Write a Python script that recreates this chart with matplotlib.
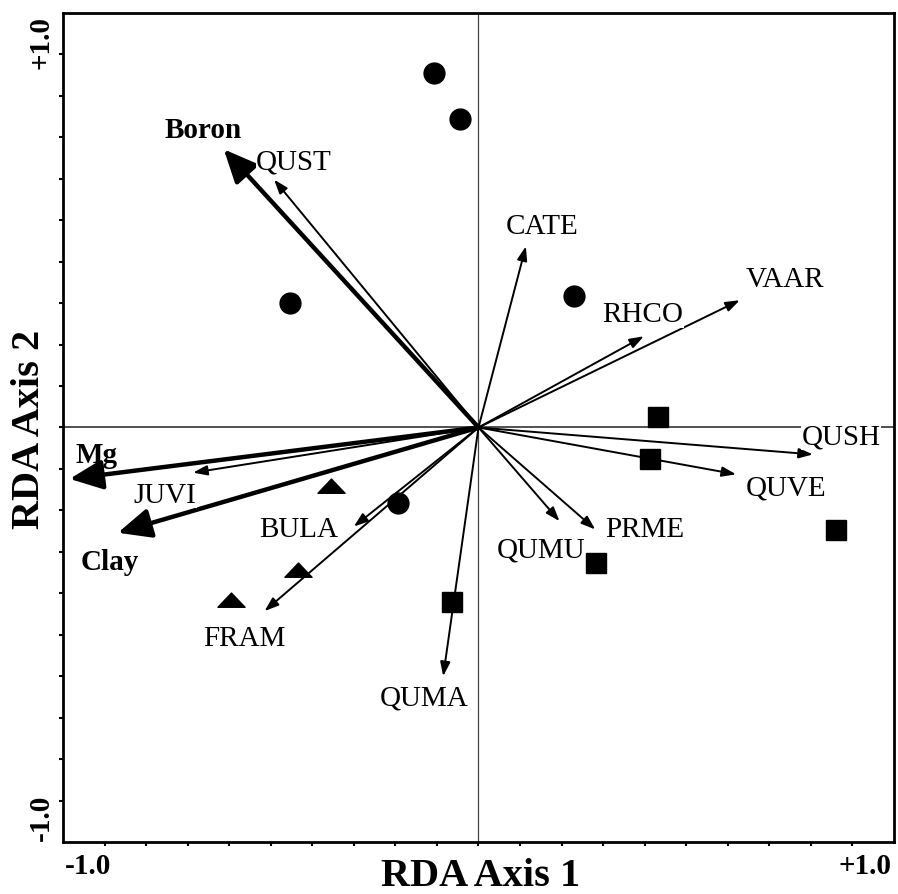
import numpy as np
import matplotlib
matplotlib.use("Agg")
import matplotlib.pyplot as plt
from matplotlib.path import Path

# site scores
circle_x = [-0.108, -0.045, -0.453, 0.229, -0.194]
circle_y = [0.856, 0.743, 0.301, 0.317, -0.183]
square_x = [0.432, 0.413, 0.861, 0.284, -0.064]
square_y = [0.025, -0.076, -0.248, -0.328, -0.421]
triangle_x = [-0.354, -0.434, -0.595]
triangle_y = [-0.142, -0.343, -0.417]

# environmental vectors
env_names = ["Boron", "Mg", "Clay"]
env_x = [-0.613, -0.984, -0.868]
env_y = [0.671, -0.124, -0.254]
env_label_x = [-0.663, -0.920, -0.888]
env_label_y = [0.719, -0.065, -0.323]

# species vectors
sp_names = ["QUST", "CATE", "VAAR", "RHCO", "QUSH", "QUVE",
            "PRME", "QUMU", "QUMA", "FRAM", "BULA", "JUVI"]
sp_x = [-0.492, 0.114, 0.629, 0.398, 0.805, 0.620,
        0.281, 0.195, -0.085, -0.515, -0.300, -0.687]
sp_y = [0.598, 0.437, 0.307, 0.220, -0.065, -0.113,
        -0.246, -0.226, -0.600, -0.443, -0.239, -0.109]
sp_label_x = [-0.444, 0.153, 0.737, 0.396, 0.872, 0.741,
              0.400, 0.151, -0.131, -0.563, -0.434, -0.755]
sp_label_y = [0.642, 0.486, 0.357, 0.273, -0.021, -0.145,
              -0.246, -0.294, -0.652, -0.507, -0.246, -0.162]

tick_label_text = ["-1.0", "+1.0"]
tick_label_pos = [-0.94, 0.93]

serif = ["Liberation Serif", "DejaVu Serif"]

fig = plt.figure(figsize=(8.98, 8.95), dpi=100)
ax = fig.add_axes([0.0702, 0.0581, 0.9253, 0.9263])
ax.set_xlim(-1.0, 1.0)
ax.set_ylim(-1.0, 1.0)

for s in ax.spines.values():
    s.set_linewidth(2)
ax.set_xticks(np.arange(-0.9, 0.95, 0.1))
ax.set_yticks(np.arange(-0.9, 0.95, 0.1))
ax.tick_params(direction="out", length=3, width=1.5, labelbottom=False, labelleft=False)

# centre lines
ax.axhline(0, color="#222222", lw=1.1, zorder=1)
ax.axvline(0, color="#444444", lw=0.9, zorder=1)

# environmental arrows (thick)
for name, x, y, lx, ly in zip(env_names, env_x, env_y, env_label_x, env_label_y):
    ax.annotate("", xy=(x, y), xytext=(0, 0),
                arrowprops=dict(arrowstyle="-|>,head_length=1.0,head_width=0.45",
                                lw=3.2, color="black", mutation_scale=20,
                                shrinkA=0, shrinkB=0), zorder=3)
    ax.text(lx, ly, name, ha="center", va="center", fontsize=21,
            fontweight="bold", family=serif, zorder=5)

# species arrows (thin)
for name, x, y, lx, ly in zip(sp_names, sp_x, sp_y, sp_label_x, sp_label_y):
    ax.annotate("", xy=(x, y), xytext=(0, 0),
                arrowprops=dict(arrowstyle="-|>,head_length=0.85,head_width=0.3",
                                lw=1.4, color="black", mutation_scale=10,
                                shrinkA=0, shrinkB=0), zorder=3)
    ax.text(lx, ly, name, ha="center", va="center", fontsize=21,
            family=serif, zorder=5,
            bbox=dict(facecolor="white", edgecolor="none", pad=0.5))

# site markers
tri = Path([(-1, -0.5), (1, -0.5), (0, 0.55), (-1, -0.5)],
           [Path.MOVETO, Path.LINETO, Path.LINETO, Path.CLOSEPOLY])
ax.plot(circle_x, circle_y, "o", color="black", ms=15, zorder=6)
ax.plot(square_x, square_y, "s", color="black", ms=14, zorder=6)
ax.plot(triangle_x, triangle_y, marker=tri, ls="none", color="black", ms=19.5, zorder=6)

# end labels of the axes
xt = ax.get_xaxis_transform()
yt = ax.get_yaxis_transform()
for txt, pos in zip(tick_label_text, tick_label_pos):
    ax.text(pos, -0.028, txt, transform=xt, ha="center", va="center",
            fontsize=21, fontweight="bold", family=serif, clip_on=False)
    ax.text(-0.026, pos, txt, transform=yt, ha="center", va="center",
            rotation=90, fontsize=21, fontweight="bold", family=serif, clip_on=False)

fig.text(0.535, 0.021, "RDA Axis 1", ha="center", va="center",
         fontsize=29, fontweight="bold", family=serif)
fig.text(0.033, 0.52, "RDA Axis 2", ha="center", va="center", rotation=90,
         fontsize=29, fontweight="bold", family=serif)

fig.savefig("out.png", dpi=100)
